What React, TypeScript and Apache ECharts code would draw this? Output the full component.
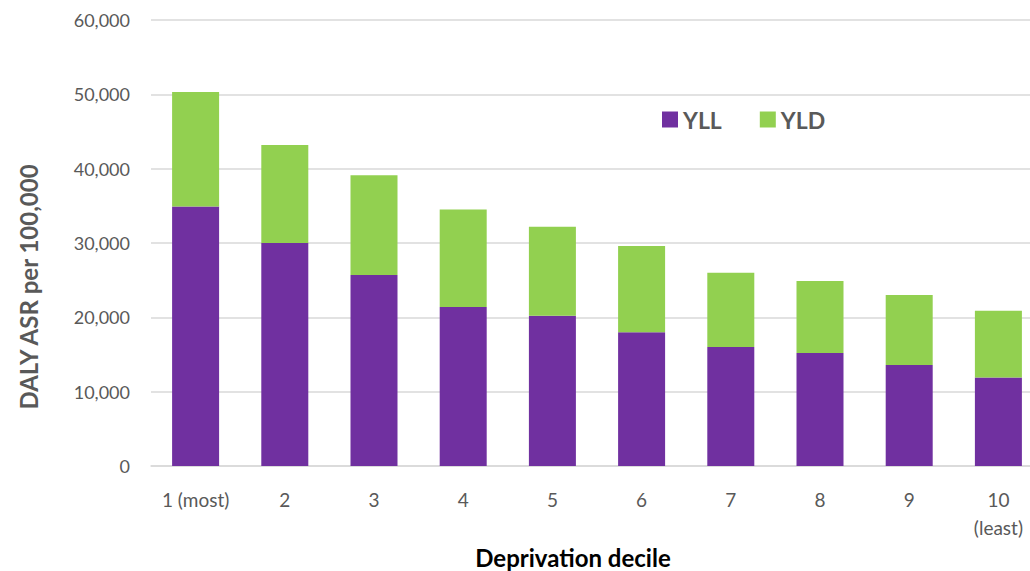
import React, { useEffect, useRef } from "react";
import * as echarts from "echarts";

const categories = ["1 (most)", "2", "3", "4", "5", "6", "7", "8", "9", "10\n(least)"];
const yllValues = [34900, 30000, 25700, 21400, 20200, 18000, 16000, 15200, 13600, 11900];
const yldValues = [15400, 13200, 13400, 13100, 12000, 11600, 10000, 9700, 9400, 9000];
const yTicks = [0, 10000, 20000, 30000, 40000, 50000, 60000];

const FONT = "Lato, 'Open Sans', sans-serif";
const TEXT = "#595959";

export default function App() {
  const ref = useRef<HTMLDivElement>(null);
  useEffect(() => {
    if (!ref.current) return;
    const chart = echarts.init(ref.current, null, { renderer: "svg" });
    chart.setOption({
      animation: false,
      backgroundColor: "#ffffff",
      textStyle: { fontFamily: FONT },
      grid: {
        left: 151,
        top: 20,
        right: -13,
        bottom: 105,
        containLabel: false,
        outerBoundsMode: "none",
      },
      legend: {
        left: 657,
        top: 103,
        itemWidth: 16,
        itemHeight: 16,
        itemGap: 38,
        icon: "rect",
        textStyle: { color: TEXT, fontSize: 23, fontWeight: "bold", fontFamily: FONT },
        data: ["YLL", "YLD"],
      },
      xAxis: {
        type: "category",
        data: categories,
        axisLine: { lineStyle: { color: "#D9D9D9", width: 1.5 } },
        axisTick: { show: false },
        axisLabel: {
          color: TEXT,
          fontSize: 19,
          fontFamily: FONT,
          margin: 19,
          lineHeight: 28,
          interval: 0,
        },
      },
      yAxis: {
        type: "value",
        min: yTicks[0],
        max: yTicks[yTicks.length - 1],
        interval: 10000,
        axisLine: { show: false },
        axisTick: { show: false },
        splitLine: { lineStyle: { color: "#D9D9D9", width: 1.5 } },
        axisLabel: {
          color: TEXT,
          fontSize: 18,
          fontFamily: FONT,
          margin: 21,
          formatter: (v: number) => v.toLocaleString("en-US"),
        },
      },
      graphic: [
        {
          type: "text",
          x: 28,
          y: 287,
          rotation: Math.PI / 2,
          style: {
            text: "DALY ASR per 100,000",
            fill: TEXT,
            font: `bold 24px ${FONT}`,
            align: "center",
            verticalAlign: "middle",
          },
        },
        {
          type: "text",
          x: 573,
          y: 557,
          style: {
            text: "Deprivation decile",
            fill: "#000000",
            font: `bold 24px ${FONT}`,
            align: "center",
            verticalAlign: "middle",
          },
        },
      ],
      series: [
        {
          name: "YLL",
          type: "bar",
          stack: "total",
          data: yllValues,
          barWidth: 47,
          itemStyle: { color: "#7030A0" },
        },
        {
          name: "YLD",
          type: "bar",
          stack: "total",
          data: yldValues,
          barWidth: 47,
          itemStyle: { color: "#92D050" },
        },
      ],
    });
    return () => chart.dispose();
  }, []);
  return (
    <div
      ref={ref}
      style={{ position: "fixed", left: 0, top: 0, width: 1030, height: 571 }}
    />
  );
}
